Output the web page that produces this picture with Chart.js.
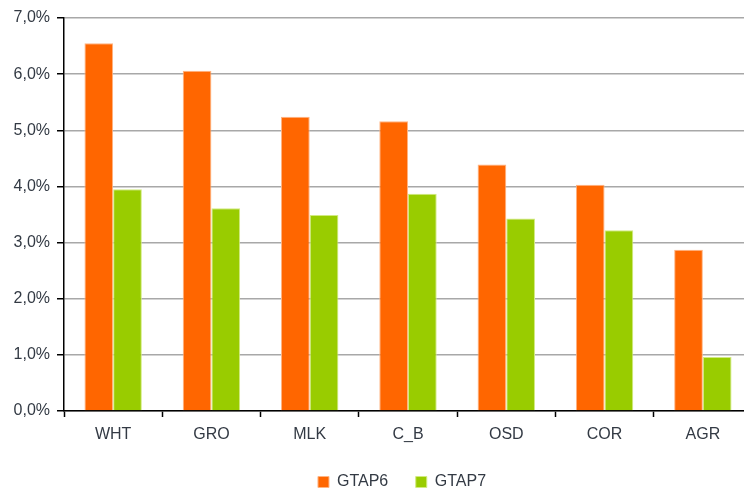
<!DOCTYPE html>
<html>
<head>
<meta charset="utf-8">
<script src="https://cdn.jsdelivr.net/npm/chart.js@4.4.1/dist/chart.umd.min.js"></script>
<style>
    html, body { margin: 0; padding: 0; background: #fff; }
    #wrap { width: 744px; height: 491px; overflow: hidden; position: relative; }
    #box { width: 752px; height: 491px; position: absolute; left: 0; top: 0; }
</style>
</head>
<body>
<div id="wrap"><div id="box"><canvas id="chart"></canvas></div></div>
<script>
const categories = ['WHT', 'GRO', 'MLK', 'C_B', 'OSD', 'COR', 'AGR'];
const gtap6 = [6.55, 6.06, 5.24, 5.16, 4.39, 4.03, 2.87];
const gtap7 = [3.95, 3.61, 3.49, 3.87, 3.43, 3.22, 0.96];
const yTicks = [0, 1, 2, 3, 4, 5, 6, 7];

const fontFamily = '"Liberation Sans", Arial, sans-serif';
const textColor = '#333a44';

// the legend in the original sits a bit right of the canvas centre
const legendShift = {
    id: 'legendShift',
    afterLayout(chart) {
        if (chart.legend) {
            chart.legend.left += 26;
            chart.legend.right += 26;
        }
    }
};

new Chart(document.getElementById('chart'), {
    type: 'bar',
    data: {
        labels: categories,
        datasets: [
            {
                label: 'GTAP6',
                data: gtap6,
                backgroundColor: '#ff6600',
                borderColor: '#ffb482',
                borderWidth: 1
            },
            {
                label: 'GTAP7',
                data: gtap7,
                backgroundColor: '#99cc00',
                borderColor: '#d2ea80',
                borderWidth: 1
            }
        ]
    },
    plugins: [legendShift],
    options: {
        responsive: true,
        maintainAspectRatio: false,
        animation: false,
        layout: { padding: { left: 0, right: 0, top: 18, bottom: -9 } },
        datasets: {
            bar: { categoryPercentage: 0.584, barPercentage: 1 }
        },
        plugins: {
            tooltip: { enabled: false },
            legend: {
                position: 'bottom',
                labels: {
                    boxWidth: 11,
                    boxHeight: 11,
                    padding: 27.5,
                    color: textColor,
                    font: { family: fontFamily, size: 16 }
                }
            }
        },
        scales: {
            x: {
                grid: {
                    display: true,
                    drawOnChartArea: false,
                    offset: true,
                    tickLength: 6,
                    tickColor: '#000',
                    tickWidth: 1.5
                },
                border: { color: '#000', width: 1.5 },
                ticks: {
                    padding: 8,
                    color: textColor,
                    font: { family: fontFamily, size: 16 }
                },
                afterFit: s => { s.height = 35.5; }
            },
            y: {
                min: 0,
                max: 7,
                afterBuildTicks: s => { s.ticks = yTicks.map(v => ({ value: v })); },
                grid: {
                    color: '#a8a8a8',
                    lineWidth: 1.5,
                    tickLength: 7,
                    tickColor: '#000',
                    tickWidth: 1.5
                },
                border: { color: '#000', width: 1.5 },
                ticks: {
                    padding: 7,
                    color: textColor,
                    font: { family: fontFamily, size: 16 },
                    callback: v => v.toFixed(1).replace('.', ',') + '%'
                },
                afterFit: s => { s.width = 64; }
            }
        }
    }
});
</script>
</body>
</html>
